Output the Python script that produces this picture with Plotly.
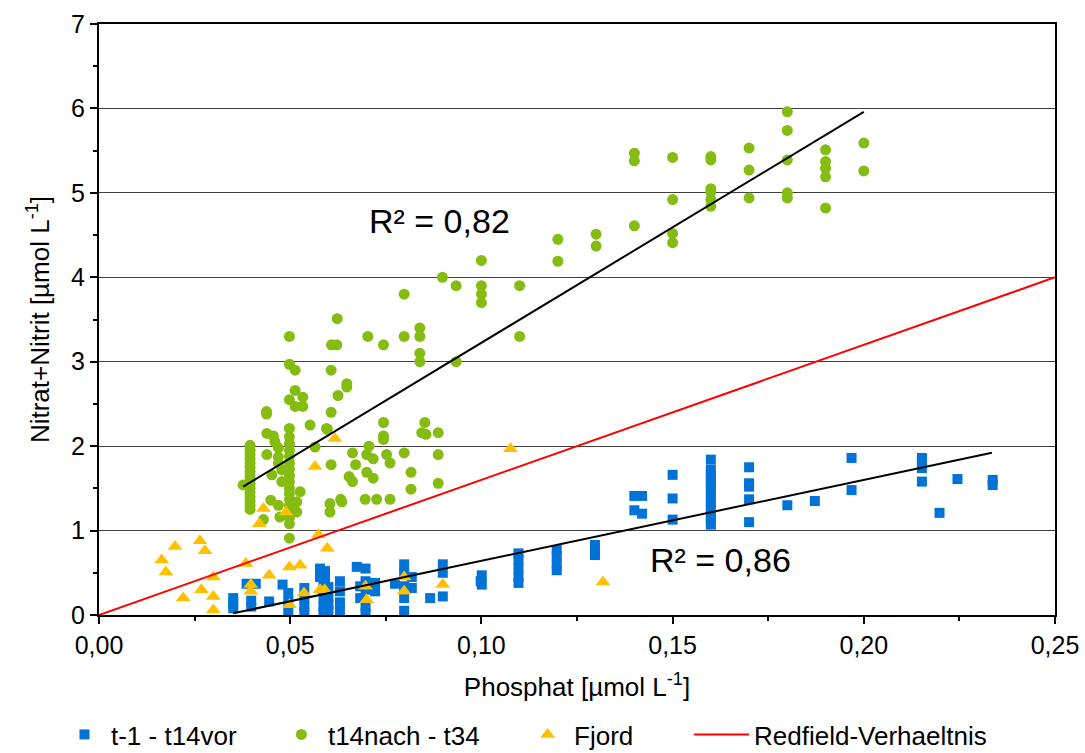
import plotly.graph_objects as go

# ---------------- data ----------------
# t-1 - t14vor (blue squares)
blue_x = [0.0351, 0.0351, 0.0351, 0.0398, 0.0398, 0.0386, 0.0410, 0.0445, 0.0480,
          0.0495, 0.0495, 0.0495, 0.0537, 0.0537, 0.0537, 0.0537,
          0.0578, 0.0578, 0.0591, 0.0591,
          0.0587, 0.0587, 0.0587, 0.0587, 0.0587,
          0.0600, 0.0600, 0.0600, 0.0600,
          0.0630, 0.0630, 0.0630, 0.0630,
          0.0674, 0.0697, 0.0697, 0.0697, 0.0697, 0.0697, 0.0683, 0.0683,
          0.0722, 0.0722, 0.0774,
          0.0798, 0.0798, 0.0798, 0.0798, 0.0798, 0.0818, 0.0818, 0.0866,
          0.0899, 0.0899, 0.0899, 0.0998, 0.1001, 0.1001,
          0.1097, 0.1097, 0.1097, 0.1097, 0.1097,
          0.1197, 0.1197, 0.1197, 0.1197,
          0.1297, 0.1297, 0.1297,
          0.1400, 0.1400, 0.1420, 0.1420,
          0.1500, 0.1500, 0.1500,
          0.1600, 0.1600, 0.1600, 0.1600, 0.1600, 0.1600, 0.1600, 0.1600, 0.1600, 0.1600, 0.1600, 0.1600,
          0.1700, 0.1700, 0.1700, 0.1700, 0.1700,
          0.1800, 0.1872, 0.1968, 0.1968,
          0.2152, 0.2152, 0.2152, 0.2152, 0.2198, 0.2245, 0.2337, 0.2337]
blue_y = [0.20, 0.14, 0.08, 0.17, 0.10, 0.37, 0.37, 0.16, 0.36,
          0.26, 0.15, 0.05, 0.32, 0.20, 0.10, 0.04,
          0.55, 0.45, 0.52, 0.42,
          0.38, 0.30, 0.20, 0.10, 0.03,
          0.33, 0.22, 0.12, 0.05,
          0.40, 0.28, 0.15, 0.06,
          0.57, 0.55, 0.40, 0.30, 0.10, 0.02, 0.34, 0.20,
          0.38, 0.28, 0.37,
          0.60, 0.50, 0.34, 0.20, 0.05, 0.45, 0.32, 0.20,
          0.60, 0.50, 0.22, 0.40, 0.47, 0.36,
          0.73, 0.65, 0.55, 0.45, 0.38,
          0.77, 0.70, 0.60, 0.53,
          0.83, 0.75, 0.71,
          1.41, 1.24, 1.41, 1.20,
          1.66, 1.38, 1.13,
          1.84, 1.72, 1.66, 1.60, 1.55, 1.48, 1.41, 1.34, 1.26, 1.18, 1.12, 1.07,
          1.75, 1.56, 1.52, 1.37, 1.10,
          1.30, 1.35, 1.86, 1.48,
          1.86, 1.80, 1.74, 1.58, 1.21, 1.61, 1.60, 1.54]

# t14nach - t34 (green circles)
green_x = [0.0395] * 16 + [0.0377, 0.0439, 0.0439, 0.0456, 0.0460, 0.0469, 0.0469, 0.0469, 0.0452] + \
          [0.0498] * 17 + [0.0478, 0.0478, 0.0526, 0.0517, 0.0517, 0.0449, 0.0469, 0.0473, 0.0430,
          0.0552, 0.0595, 0.0565, 0.0604, 0.0604, 0.0635,
          0.0498, 0.0498, 0.0498, 0.0513, 0.0513, 0.0513, 0.0533, 0.0533,
          0.0438, 0.0438, 0.0608, 0.0622, 0.0623,
          0.0607, 0.0607, 0.0607, 0.0648, 0.0648, 0.0625, 0.0597,
          0.0703, 0.0744, 0.0744, 0.0744, 0.0744,
          0.0798, 0.0798, 0.0798, 0.0839, 0.0839, 0.0839, 0.0839,
          0.0852, 0.0844, 0.0855, 0.0887, 0.0887, 0.0887,
          0.0706, 0.0663, 0.0663, 0.0700, 0.0700, 0.0717, 0.0717, 0.0752, 0.0761,
          0.0671, 0.0654, 0.0816, 0.0816, 0.0632, 0.0696, 0.0726, 0.0761,
          0.0898, 0.0934, 0.0934,
          0.1000, 0.1000, 0.1000, 0.1000, 0.1100, 0.1100, 0.1200, 0.1200, 0.1300, 0.1300,
          0.1400, 0.1400, 0.1400, 0.1500, 0.1500, 0.1500, 0.1500,
          0.1600, 0.1600, 0.1600, 0.1600, 0.1600, 0.1600,
          0.1700, 0.1700, 0.1700, 0.1800, 0.1800, 0.1800, 0.1800, 0.1800,
          0.1900, 0.1900, 0.1900, 0.1900, 0.1900, 0.2000, 0.2000]
green_y = [2.01, 1.95, 1.90, 1.85, 1.80, 1.75, 1.70, 1.65, 1.60, 1.55, 1.50, 1.45, 1.40, 1.35, 1.30, 1.25,
           1.54, 2.15, 1.90, 2.12, 2.05, 1.98, 1.87, 1.80, 1.66,
           2.21, 2.11, 2.03, 1.95, 1.88, 1.80, 1.73, 1.65, 1.58, 1.50, 1.44, 1.37, 1.30, 1.22, 1.15, 1.08, 0.91,
           1.72, 1.58, 1.46, 1.34, 1.22, 1.36, 1.30, 1.16, 1.13,
           2.25, 2.21, 1.99, 1.32, 1.22, 1.34,
           3.30, 2.97, 2.55, 2.90, 2.66, 2.47, 2.58, 2.47,
           2.41, 2.38, 3.20, 3.20, 3.51,
           2.90, 2.40, 1.78, 2.74, 2.70, 2.60, 2.20,
           3.30, 3.20, 2.28, 2.12, 2.08,
           3.80, 3.30, 1.92, 3.40, 3.30, 3.10, 3.00,
           2.28, 2.16, 2.14, 2.16, 1.90, 1.56,
           2.00, 1.92, 1.58, 1.90, 1.69, 1.85, 1.62, 1.90, 1.80,
           1.78, 1.64, 1.69, 1.49, 1.37, 1.37, 1.37, 1.37,
           4.00, 3.90, 3.00,
           4.20, 3.90, 3.80, 3.70, 3.90, 3.30, 4.45, 4.19, 4.51, 4.37,
           5.47, 5.38, 4.61, 5.42, 4.92, 4.52, 4.41,
           5.43, 5.39, 5.05, 5.01, 4.92, 4.84,
           5.53, 5.27, 4.94, 5.96, 5.74, 5.39, 5.00, 4.94,
           5.51, 5.37, 5.29, 5.19, 4.82, 5.59, 5.26]

# Fjord (yellow triangles)
fjord_x = [0.0164, 0.0175, 0.0199, 0.0220, 0.0264, 0.0268, 0.0277, 0.0299, 0.0299, 0.0299,
           0.0384, 0.0397, 0.0397, 0.0419, 0.0430, 0.0445, 0.0489, 0.0498, 0.0498, 0.0526,
           0.0536, 0.0565, 0.0574, 0.0578, 0.0590, 0.0597, 0.0617, 0.0697, 0.0700, 0.0798,
           0.0798, 0.0899, 0.1076, 0.1318]
fjord_y = [0.65, 0.51, 0.81, 0.20, 0.88, 0.30, 0.76, 0.45, 0.22, 0.06,
           0.61, 0.36, 0.28, 1.08, 1.26, 0.47, 1.22, 0.57, 0.12, 0.59,
           0.26, 1.76, 0.95, 0.30, 0.30, 0.79, 2.09, 0.34, 0.18, 0.45,
           0.28, 0.36, 1.97, 0.39]

# Linear fits (intercept, slope, x-range)
green_fit = dict(a=0.488, b=27.36, x0=0.0377, x1=0.200)
blue_fit = dict(a=-0.316, b=9.58, x0=0.0351, x1=0.2335)
green_r2 = "R² = 0,82"
blue_r2 = "R² = 0,86"

# Redfield ratio N:P = 16:1
redfield_ratio = 16
redfield_x = [0.0, 0.25]

FONT = "Liberation Sans, Arial, sans-serif"
BLUE = "#0073D6"
GREEN = "#85BC12"
YELLOW = "#FFC000"

fig = go.Figure()

fig.add_trace(go.Scatter(x=blue_x, y=blue_y, mode="markers", name="t-1 - t14vor",
                         marker=dict(symbol="square", size=10, color=BLUE, line=dict(width=0)),
                         legend="legend"))
fig.add_trace(go.Scatter(x=green_x, y=green_y, mode="markers", name="t14nach - t34",
                         marker=dict(symbol="circle", size=11, color=GREEN, line=dict(width=0)),
                         legend="legend2"))
fig.add_trace(go.Scatter(x=fjord_x, y=fjord_y, mode="markers", name="Fjord",
                         marker=dict(symbol="triangle-up", size=13, color=YELLOW, line=dict(width=0)),
                         legend="legend3"))
fig.add_trace(go.Scatter(x=redfield_x, y=[redfield_ratio * v for v in redfield_x], mode="lines",
                         name="Redfield-Verhaeltnis", line=dict(color="#FF0000", width=2),
                         legend="legend4"))

for fit in (green_fit, blue_fit):
    xs = [fit["x0"], fit["x1"]]
    fig.add_trace(go.Scatter(x=xs, y=[fit["a"] + fit["b"] * v for v in xs], mode="lines",
                             line=dict(color="black", width=2), showlegend=False, hoverinfo="skip"))

fig.add_annotation(x=0.0890, y=4.67, text=green_r2, showarrow=False,
                   font=dict(family=FONT, size=34, color="black"))
fig.add_annotation(x=0.1625, y=0.65, text=blue_r2, showarrow=False,
                   font=dict(family=FONT, size=34, color="black"))

leg_common = dict(orientation="h", yanchor="bottom", xanchor="left", y=-0.242,
                  font=dict(family=FONT, size=26, color="black"),
                  bgcolor="rgba(0,0,0,0)", borderwidth=0)

fig.update_layout(
    width=1085, height=753,
    margin=dict(l=99, r=30, t=24, b=138, autoexpand=False),
    paper_bgcolor="white", plot_bgcolor="white",
    separators=", ",
    font=dict(family=FONT, size=25, color="black"),
    legend=dict(x=-0.0429, itemwidth=43, **leg_common),
    legend2=dict(x=0.1840, itemwidth=43, **leg_common),
    legend3=dict(x=0.4415, itemwidth=43, **leg_common),
    legend4=dict(x=0.6172, itemwidth=55, **leg_common),
    xaxis=dict(range=[0, 0.25], dtick=0.05, tickformat=".2f", showgrid=False, zeroline=False,
               automargin=False,
               showline=True, linecolor="black", linewidth=2, mirror=True,
               ticks="outside", ticklen=7, tickwidth=2, tickcolor="black",
               minor=dict(dtick=0.025, ticks="outside", ticklen=4, tickwidth=2, tickcolor="black", showgrid=False),
               title=dict(text="Phosphat [µmol L<sup>-1</sup>]", font=dict(size=26), standoff=20),
               tickfont=dict(size=25)),
    yaxis=dict(range=[0, 7], dtick=1, tickformat="d", showgrid=True, gridcolor="#404040", gridwidth=1,
               zeroline=False, automargin=False,
               showline=True, linecolor="black", linewidth=2, mirror=True,
               ticks="outside", ticklen=7, tickwidth=2, tickcolor="black",
               minor=dict(dtick=0.5, ticks="outside", ticklen=4, tickwidth=2, tickcolor="black", showgrid=False),
               title=dict(text="Nitrat+Nitrit [µmol L<sup>-1</sup>]", font=dict(size=26), standoff=14),
               tickfont=dict(size=25)),
)

fig.write_html("out.html")
